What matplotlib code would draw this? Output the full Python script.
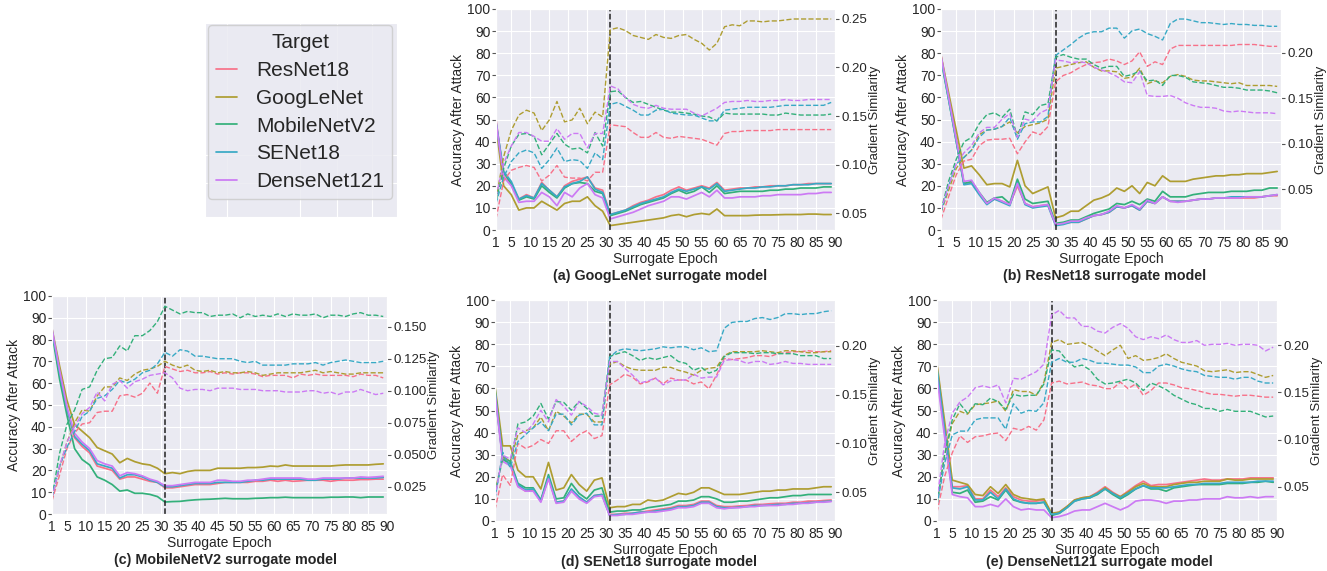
import matplotlib
matplotlib.use("Agg")
import matplotlib.pyplot as plt
import seaborn as sns
from matplotlib.ticker import MultipleLocator

# surrogate epochs (every second epoch)
epochs = list(range(1, 90, 2))
targets = ["ResNet18", "GoogLeNet", "MobileNetV2", "SENet18", "DenseNet121"]
x_ticks = [1, 5, 10, 15, 20, 25, 30, 35, 40, 45, 50, 55, 60, 65, 70, 75, 80, 85, 90]
switch_epoch = 31

# ---- (a) GoogLeNet surrogate: rows follow `targets` ----
acc_a = [
    [50, 24, 21, 14, 16, 14.5, 21.5, 18, 15, 20, 22, 23, 24, 19, 18, 7, 8, 9, 11, 12.5, 13.5, 15, 16, 18, 19.5,
     18, 19, 20, 19, 21.5, 18, 18.5, 19, 19, 19.5, 19.5, 20, 20, 20, 20.5, 20.5, 21, 21, 21, 21],
    [47, 20, 16, 9, 10, 10, 13, 11, 9, 12, 13, 13, 15, 11, 8.5, 2, 2.5, 3, 3.5, 4, 4.5, 5, 5.5, 6.5, 7,
     6, 7, 7.5, 7, 9.5, 6.5, 6.5, 6.5, 6.5, 6.7, 6.8, 6.8, 6.9, 7, 7, 7, 7.2, 7.2, 7, 7],
    [48, 26, 21, 13.5, 15, 14, 20, 17, 14.5, 19, 21, 21.5, 21, 17.5, 16.5, 6.5, 7.5, 8.5, 10, 11.5, 12.5, 13.5, 14.5, 16.5, 18,
     16.5, 17.5, 19.5, 17, 20, 16.5, 17, 17.5, 17.5, 17.5, 17.5, 18, 18, 18.5, 18.5, 19, 19, 19, 19.5, 19.5],
    [49, 26.5, 22, 14, 15.5, 14.5, 21, 18, 15, 19.5, 21, 22, 24, 18.5, 17, 7, 8, 9, 10.5, 12, 13, 14, 15, 17, 18.5,
     17.5, 18.5, 19.5, 18.5, 21, 17.5, 18, 18.5, 19, 19, 19.5, 19.5, 20, 20, 20.5, 20.5, 20.5, 21, 21, 21],
    [49, 24, 20, 12.5, 13, 13, 17, 15, 11, 17, 15, 19, 21, 16, 14.5, 5, 6, 7, 8, 9.5, 11, 12, 13, 15, 15,
     14, 15.5, 17, 15, 18, 14.5, 14.5, 15, 15, 15, 15.5, 15.5, 16, 16, 16, 16, 16.5, 16.5, 17, 17],
]
sim_a = [
    [0.044, 0.083, 0.094, 0.097, 0.099, 0.097, 0.083, 0.089, 0.099, 0.087, 0.086, 0.086, 0.083, 0.092, 0.092,
     0.141, 0.140, 0.139, 0.133, 0.128, 0.128, 0.133, 0.128, 0.127, 0.129, 0.128, 0.127, 0.126, 0.123, 0.120,
     0.132, 0.134, 0.134, 0.135, 0.135, 0.135, 0.135, 0.136, 0.136, 0.136, 0.136, 0.136, 0.136, 0.136, 0.136],
    [0.064, 0.108, 0.135, 0.151, 0.156, 0.153, 0.135, 0.146, 0.165, 0.144, 0.146, 0.158, 0.142, 0.154, 0.149,
     0.239, 0.241, 0.238, 0.233, 0.231, 0.229, 0.234, 0.231, 0.230, 0.233, 0.234, 0.229, 0.225, 0.218, 0.225,
     0.242, 0.244, 0.243, 0.248, 0.248, 0.247, 0.248, 0.248, 0.249, 0.250, 0.250, 0.250, 0.250, 0.250, 0.250],
    [0.062, 0.096, 0.119, 0.131, 0.132, 0.129, 0.110, 0.121, 0.132, 0.121, 0.116, 0.117, 0.112, 0.133, 0.119,
     0.175, 0.176, 0.169, 0.164, 0.165, 0.162, 0.159, 0.156, 0.154, 0.154, 0.153, 0.152, 0.150, 0.149, 0.145,
     0.153, 0.152, 0.152, 0.152, 0.152, 0.152, 0.151, 0.151, 0.153, 0.152, 0.151, 0.151, 0.151, 0.151, 0.152],
    [0.060, 0.087, 0.103, 0.112, 0.115, 0.112, 0.096, 0.105, 0.117, 0.103, 0.105, 0.104, 0.096, 0.112, 0.105,
     0.162, 0.164, 0.160, 0.156, 0.151, 0.151, 0.156, 0.157, 0.153, 0.152, 0.151, 0.151, 0.148, 0.145, 0.145,
     0.156, 0.157, 0.158, 0.159, 0.159, 0.159, 0.159, 0.160, 0.161, 0.161, 0.161, 0.161, 0.161, 0.161, 0.164],
    [0.067, 0.101, 0.119, 0.133, 0.133, 0.129, 0.124, 0.124, 0.137, 0.126, 0.132, 0.132, 0.117, 0.132, 0.132,
     0.181, 0.178, 0.169, 0.162, 0.159, 0.158, 0.161, 0.158, 0.157, 0.157, 0.157, 0.153, 0.150, 0.154, 0.158,
     0.164, 0.165, 0.165, 0.166, 0.165, 0.165, 0.166, 0.166, 0.167, 0.166, 0.166, 0.167, 0.167, 0.167, 0.167],
]

# ---- (b) ResNet18 surrogate ----
acc_b = [
    [79, 60, 41, 21, 21.5, 16.5, 12, 14, 13, 11.5, 20, 12, 10.5, 11, 11.5, 2.5, 3, 3.5, 3.5, 5, 6.5, 7, 8, 10.5, 10,
     11, 9, 13, 12, 15, 13, 13, 13, 13.5, 14, 14, 14.5, 14.5, 14.5, 14.5, 14.5, 14.5, 15, 15.5, 15.5],
    [79, 62, 45, 28, 29, 25, 20.5, 21, 21, 19.5, 31.5, 20, 16.5, 18, 19.5, 5.5, 6.5, 8.5, 8.5, 11, 13.5, 14.5, 16, 19, 17.5,
     20, 16.5, 21.5, 20, 24.5, 22, 22, 22, 23, 23.5, 24, 24.5, 24.5, 25, 25, 25.5, 25.5, 25.5, 26, 26.5],
    [77, 59, 40, 21, 22, 17, 12.5, 14.5, 15, 12, 23, 14, 12, 12.5, 13, 3, 3.5, 4.5, 4.5, 6, 7.5, 8.5, 9.5, 12, 11.5,
     13, 11.5, 14, 13, 17.5, 15, 15, 15, 16, 16.5, 17, 17, 17, 17.5, 17.5, 17.5, 18, 18, 19, 19],
    [78, 59, 40, 20.5, 21, 16, 11.5, 14, 12.5, 11, 21.5, 11.5, 10, 10.5, 11, 2, 2.5, 3.5, 3.5, 5, 6.5, 7, 8, 10.5, 10,
     11, 9, 13, 12, 15, 13, 13, 13, 13.5, 14, 14, 14.5, 14.5, 15, 15, 15, 15, 15, 15.5, 16],
    [79, 60, 41, 22, 22.5, 17, 12, 14.5, 13, 11.5, 21, 12, 10.5, 11, 11.5, 2.5, 3, 4, 4, 5.5, 6.5, 7, 8.5, 11, 10,
     11.5, 9.5, 13.5, 12, 15, 13, 12.5, 13, 13.5, 14, 14, 14.5, 14.5, 14.5, 14.5, 15, 15, 15, 15.5, 16],
]
sim_b = [
    [0.017, 0.042, 0.066, 0.081, 0.083, 0.098, 0.104, 0.105, 0.105, 0.106, 0.089, 0.102, 0.113, 0.110, 0.119,
     0.168, 0.175, 0.178, 0.183, 0.187, 0.189, 0.190, 0.193, 0.191, 0.187, 0.191, 0.201, 0.185, 0.190, 0.187,
     0.204, 0.208, 0.208, 0.208, 0.208, 0.208, 0.208, 0.208, 0.208, 0.209, 0.209, 0.209, 0.208, 0.207, 0.207],
    [0.025, 0.049, 0.073, 0.085, 0.093, 0.110, 0.115, 0.116, 0.119, 0.124, 0.112, 0.119, 0.121, 0.123, 0.127,
     0.183, 0.185, 0.187, 0.189, 0.190, 0.184, 0.180, 0.180, 0.179, 0.172, 0.173, 0.183, 0.166, 0.169, 0.167,
     0.174, 0.176, 0.174, 0.170, 0.169, 0.169, 0.168, 0.167, 0.166, 0.167, 0.164, 0.164, 0.164, 0.164, 0.163],
    [0.027, 0.059, 0.083, 0.102, 0.107, 0.122, 0.132, 0.134, 0.129, 0.138, 0.107, 0.135, 0.132, 0.142, 0.144,
     0.195, 0.198, 0.195, 0.193, 0.193, 0.187, 0.183, 0.185, 0.185, 0.174, 0.176, 0.180, 0.169, 0.170, 0.164,
     0.175, 0.175, 0.173, 0.168, 0.167, 0.166, 0.164, 0.162, 0.162, 0.161, 0.159, 0.159, 0.159, 0.158, 0.156],
    [0.025, 0.054, 0.078, 0.085, 0.093, 0.107, 0.115, 0.116, 0.119, 0.129, 0.105, 0.122, 0.124, 0.124, 0.130,
     0.197, 0.203, 0.209, 0.216, 0.221, 0.223, 0.223, 0.227, 0.227, 0.216, 0.224, 0.226, 0.221, 0.218, 0.214,
     0.232, 0.237, 0.237, 0.235, 0.233, 0.233, 0.232, 0.231, 0.232, 0.231, 0.231, 0.230, 0.230, 0.229, 0.229],
    [0.027, 0.054, 0.078, 0.090, 0.098, 0.112, 0.118, 0.118, 0.127, 0.133, 0.107, 0.127, 0.125, 0.134, 0.138,
     0.192, 0.191, 0.189, 0.190, 0.189, 0.184, 0.181, 0.178, 0.174, 0.168, 0.167, 0.179, 0.153, 0.152, 0.152,
     0.153, 0.150, 0.145, 0.142, 0.140, 0.140, 0.139, 0.136, 0.135, 0.136, 0.135, 0.134, 0.134, 0.134, 0.133],
]

# ---- (c) MobileNetV2 surrogate ----
acc_c = [
    [84, 65, 48, 35, 31, 28, 22, 21, 20, 16, 17, 17, 16, 15, 14.5, 12, 12, 12.5, 13, 13.5, 13.5, 13.5, 14, 14.5, 14.5,
     14.5, 14.5, 15, 15, 15.5, 15, 15.5, 15, 15.2, 15.5, 15.5, 15.5, 15, 15.5, 15.5, 15.5, 15.8, 15.8, 16, 16],
    [85, 68, 52, 41, 38, 35, 30.5, 29, 27.5, 23.5, 25.5, 24, 23, 22.5, 21, 18.5, 19, 18.5, 19.5, 20, 20, 20, 21, 21, 21,
     21, 21.3, 21.3, 21.5, 22, 21.8, 22.5, 22, 22, 22, 22, 22, 22, 22.3, 22.5, 22.5, 22.5, 22.5, 22.8, 23],
    [83, 62, 45, 30, 25, 22.5, 17, 15.5, 13.5, 10.5, 11, 9.5, 9.5, 9, 8, 5.5, 5.7, 5.8, 6.2, 6.5, 6.7, 6.8, 7, 7.2, 7,
     7, 7, 7.2, 7.3, 7.5, 7.5, 7.7, 7.5, 7.5, 7.5, 7.5, 7.5, 7.7, 7.7, 7.8, 7.8, 7.5, 7.8, 7.8, 7.8],
    [84, 65, 48, 35.5, 32, 29, 23, 22, 21, 16.5, 18, 18, 17, 15.5, 14.5, 12.5, 12.5, 13, 13.5, 14, 14, 14, 14.5, 14.5, 14.5,
     14.5, 15, 15.5, 15.5, 16, 16, 16, 16, 16, 15.5, 15.5, 16, 16, 16, 16.5, 16.5, 16.5, 16.5, 16.5, 16.8],
    [85, 66, 49, 37, 33, 30, 24.5, 23, 22, 17.5, 19, 18.5, 17.5, 16, 15, 13, 13, 13.5, 14, 14.5, 14.5, 14.5, 15.5, 15.5, 15,
     15, 15.5, 15.5, 16, 16.5, 16.5, 16.5, 16.5, 16.5, 16, 16, 16.5, 16.5, 16.5, 16.5, 16.5, 17, 16.8, 17, 17.3],
]
sim_c = [
    [0.014, 0.034, 0.055, 0.067, 0.074, 0.075, 0.083, 0.084, 0.084, 0.096, 0.097, 0.095, 0.098, 0.106, 0.098,
     0.119, 0.117, 0.115, 0.116, 0.114, 0.114, 0.115, 0.113, 0.114, 0.113, 0.114, 0.114, 0.113, 0.111, 0.112,
     0.112, 0.112, 0.110, 0.113, 0.112, 0.113, 0.112, 0.112, 0.112, 0.112, 0.111, 0.113, 0.112, 0.112, 0.110],
    [0.016, 0.040, 0.060, 0.075, 0.085, 0.084, 0.096, 0.103, 0.103, 0.110, 0.108, 0.113, 0.116, 0.117, 0.119,
     0.123, 0.120, 0.118, 0.120, 0.116, 0.115, 0.116, 0.114, 0.115, 0.114, 0.114, 0.115, 0.114, 0.112, 0.113,
     0.114, 0.114, 0.114, 0.114, 0.115, 0.116, 0.114, 0.115, 0.114, 0.113, 0.113, 0.114, 0.114, 0.114, 0.114],
    [0.017, 0.051, 0.074, 0.085, 0.101, 0.103, 0.116, 0.125, 0.126, 0.135, 0.131, 0.143, 0.143, 0.147, 0.154,
     0.166, 0.163, 0.160, 0.162, 0.161, 0.161, 0.158, 0.159, 0.159, 0.160, 0.157, 0.160, 0.158, 0.159, 0.158,
     0.160, 0.158, 0.160, 0.159, 0.159, 0.160, 0.157, 0.159, 0.159, 0.158, 0.160, 0.161, 0.159, 0.159, 0.158],
    [0.017, 0.041, 0.056, 0.068, 0.080, 0.084, 0.094, 0.096, 0.101, 0.108, 0.106, 0.109, 0.114, 0.116, 0.121,
     0.130, 0.127, 0.132, 0.131, 0.127, 0.127, 0.126, 0.125, 0.125, 0.125, 0.123, 0.122, 0.123, 0.120, 0.120,
     0.120, 0.120, 0.121, 0.121, 0.121, 0.122, 0.120, 0.122, 0.123, 0.124, 0.123, 0.122, 0.122, 0.122, 0.123],
    [0.016, 0.041, 0.060, 0.072, 0.082, 0.087, 0.099, 0.092, 0.105, 0.108, 0.102, 0.107, 0.109, 0.112, 0.113,
     0.114, 0.110, 0.102, 0.100, 0.101, 0.101, 0.100, 0.102, 0.102, 0.102, 0.101, 0.101, 0.101, 0.100, 0.100,
     0.100, 0.099, 0.099, 0.099, 0.100, 0.100, 0.098, 0.099, 0.097, 0.099, 0.099, 0.101, 0.099, 0.097, 0.098],
]

# ---- (d) SENet18 surrogate ----
acc_d = [
    [59, 28, 26, 16, 13.5, 14, 9, 19.5, 8.5, 9, 14, 10.5, 8.5, 11.5, 12, 3, 3, 3.5, 3.5, 4, 4.5, 5, 5.5, 6, 7,
     7, 7.5, 9, 9, 7, 6.5, 6.5, 6.8, 7, 7.5, 7.5, 7.8, 8, 8, 8.5, 8.5, 9, 9, 9.3, 9.5],
    [61, 34, 34, 23, 20, 20, 14.5, 26.5, 14, 15, 21, 16.5, 13.5, 18.5, 19.5, 6, 6.5, 6.5, 7.5, 7.5, 9.5, 9, 9.5, 11, 12.5,
     12, 13, 15, 15, 13.5, 12, 12, 12, 12.5, 13, 13.5, 13.5, 14, 14, 14.5, 14.5, 14.5, 15, 15.5, 15.5],
    [60, 29, 27, 17, 15, 15, 9.5, 21, 10, 10.5, 17, 12.5, 10, 14, 15, 4, 4.5, 4.5, 5, 5, 6, 6.5, 7, 7.5, 9,
     9, 9.5, 11, 11, 10, 8.5, 8.5, 9, 9, 9.5, 10, 10.5, 10.5, 11, 11.5, 11.5, 12, 12, 12, 12],
    [58, 28, 26, 16.5, 14, 14.5, 9, 20, 8.5, 9, 14.5, 11, 8.5, 11.5, 12, 2.5, 3, 3, 3.5, 4, 4, 4.5, 5, 5.5, 6.5,
     6.5, 7, 8.5, 8.5, 6.5, 6, 6, 6.3, 6.5, 7, 7, 7.2, 7.5, 7.5, 8, 8, 8.3, 8.5, 8.8, 9],
    [58, 27, 25, 15.5, 13.5, 13.5, 8.5, 19, 8, 8.5, 13.5, 10, 8, 11, 11.5, 2.5, 2.5, 3, 3, 3.5, 4, 4, 4.5, 5, 6,
     6, 6.5, 8, 8, 6, 5.5, 6, 6, 6.5, 6.5, 7, 7, 7, 7.5, 7.5, 8, 8, 8.5, 8.5, 8.8],
]
sim_d = [
    [0.032, 0.068, 0.057, 0.100, 0.095, 0.098, 0.104, 0.100, 0.113, 0.113, 0.102, 0.109, 0.113, 0.105, 0.108,
     0.160, 0.165, 0.171, 0.168, 0.161, 0.163, 0.167, 0.161, 0.167, 0.165, 0.165, 0.161, 0.163, 0.156, 0.170,
     0.187, 0.186, 0.187, 0.188, 0.190, 0.190, 0.189, 0.192, 0.193, 0.194, 0.194, 0.195, 0.194, 0.194, 0.195],
    [0.050, 0.086, 0.082, 0.109, 0.113, 0.116, 0.127, 0.113, 0.133, 0.128, 0.121, 0.130, 0.130, 0.122, 0.122,
     0.181, 0.184, 0.179, 0.176, 0.175, 0.175, 0.175, 0.178, 0.178, 0.175, 0.173, 0.170, 0.175, 0.177, 0.178,
     0.190, 0.194, 0.194, 0.194, 0.194, 0.195, 0.194, 0.193, 0.195, 0.195, 0.194, 0.193, 0.193, 0.194, 0.194],
    [0.048, 0.084, 0.079, 0.120, 0.122, 0.128, 0.141, 0.125, 0.143, 0.142, 0.134, 0.143, 0.136, 0.128, 0.128,
     0.189, 0.192, 0.194, 0.190, 0.185, 0.188, 0.186, 0.188, 0.190, 0.184, 0.182, 0.175, 0.178, 0.172, 0.175,
     0.189, 0.193, 0.193, 0.193, 0.192, 0.193, 0.193, 0.192, 0.192, 0.192, 0.190, 0.190, 0.190, 0.187, 0.187],
    [0.043, 0.091, 0.075, 0.102, 0.109, 0.116, 0.122, 0.113, 0.130, 0.130, 0.119, 0.129, 0.131, 0.119, 0.119,
     0.188, 0.195, 0.197, 0.196, 0.195, 0.196, 0.197, 0.199, 0.198, 0.199, 0.199, 0.196, 0.198, 0.194, 0.195,
     0.218, 0.224, 0.225, 0.225, 0.228, 0.229, 0.227, 0.229, 0.233, 0.233, 0.232, 0.233, 0.233, 0.235, 0.236],
    [0.045, 0.088, 0.084, 0.116, 0.111, 0.120, 0.134, 0.122, 0.145, 0.138, 0.129, 0.143, 0.138, 0.131, 0.129,
     0.184, 0.184, 0.177, 0.170, 0.162, 0.164, 0.167, 0.160, 0.164, 0.165, 0.165, 0.171, 0.167, 0.168, 0.168,
     0.185, 0.186, 0.185, 0.182, 0.184, 0.184, 0.181, 0.182, 0.184, 0.182, 0.182, 0.181, 0.181, 0.181, 0.181],
]

# ---- (e) DenseNet121 surrogate ----
acc_e = [
    [70, 42, 15.5, 15.5, 16, 10, 10, 14, 11, 15, 11, 9.5, 9, 9, 9.5, 3, 4, 6.5, 9.5, 10.5, 11, 13, 15.5, 13, 11,
     13.5, 16, 18, 16, 16.5, 16.5, 17, 17.5, 18, 18.5, 19, 18.5, 18.5, 19, 19, 19, 19.5, 19.5, 19.5, 19.5],
    [71, 45, 18.5, 17.5, 16.5, 12, 11.5, 15.5, 12.5, 16.5, 12, 10.5, 10, 9.5, 10, 3.5, 4, 6.5, 9.5, 10.5, 11, 12.5, 15, 12.5, 11,
     13, 15.5, 17, 15.5, 15.5, 15.5, 16.5, 17, 17.5, 17.5, 18, 18, 18, 19, 18.5, 18.5, 19, 19, 19, 19],
    [68, 40, 13, 12.5, 14, 8.5, 9, 11, 9.5, 14, 9.5, 8.5, 8, 8, 8.5, 2.5, 3.5, 6, 9, 10, 10.5, 12, 14.5, 12, 10,
     12, 14.5, 16, 14.5, 14.5, 13.5, 15, 15.5, 16, 16.5, 16.5, 16.5, 16.5, 17, 17, 17, 17.5, 17.5, 18, 17.5],
    [69, 41, 15, 14.5, 15.5, 9.5, 9.5, 13, 10, 14.5, 10, 8.5, 8, 8, 8.5, 3, 3.5, 6, 9, 10, 10.5, 12.5, 14.5, 12.5, 10.5,
     12.5, 14.5, 16, 15, 15, 15, 15.5, 16, 16.5, 16.5, 17, 17, 17, 17.5, 17.5, 17.5, 17.5, 18, 18, 18],
    [65, 38, 12, 11, 10.5, 6.5, 6.5, 7.5, 6.5, 10, 6.5, 5, 5.5, 5, 5, 1.5, 2, 3, 4.5, 5, 5, 6.5, 8, 6.5, 5,
     6.5, 9, 9.5, 9.5, 9, 8, 9, 9, 9.5, 9.5, 10, 10, 10, 11, 10.5, 10.5, 11, 10.5, 11, 11],
]
sim_e = [
    [0.023, 0.061, 0.086, 0.104, 0.097, 0.103, 0.104, 0.106, 0.107, 0.099, 0.112, 0.110, 0.114, 0.110, 0.121,
     0.160, 0.162, 0.159, 0.160, 0.161, 0.158, 0.157, 0.154, 0.154, 0.161, 0.154, 0.159, 0.147, 0.152, 0.160,
     0.160, 0.158, 0.155, 0.154, 0.152, 0.150, 0.148, 0.148, 0.147, 0.146, 0.147, 0.147, 0.146, 0.145, 0.145],
    [0.032, 0.084, 0.117, 0.130, 0.127, 0.137, 0.138, 0.139, 0.141, 0.130, 0.153, 0.151, 0.151, 0.147, 0.161,
     0.203, 0.206, 0.201, 0.202, 0.203, 0.199, 0.194, 0.189, 0.195, 0.200, 0.186, 0.189, 0.184, 0.185, 0.187,
     0.191, 0.186, 0.182, 0.180, 0.178, 0.173, 0.172, 0.173, 0.174, 0.171, 0.172, 0.172, 0.169, 0.166, 0.168],
    [0.032, 0.084, 0.121, 0.138, 0.128, 0.138, 0.137, 0.144, 0.140, 0.132, 0.148, 0.146, 0.147, 0.147, 0.159,
     0.195, 0.194, 0.184, 0.177, 0.179, 0.174, 0.164, 0.159, 0.160, 0.162, 0.164, 0.160, 0.152, 0.160, 0.157,
     0.153, 0.147, 0.143, 0.139, 0.137, 0.133, 0.133, 0.130, 0.132, 0.130, 0.130, 0.130, 0.127, 0.124, 0.125],
    [0.030, 0.075, 0.105, 0.109, 0.109, 0.121, 0.123, 0.123, 0.123, 0.111, 0.138, 0.128, 0.131, 0.130, 0.139,
     0.182, 0.186, 0.182, 0.182, 0.186, 0.184, 0.181, 0.181, 0.180, 0.179, 0.179, 0.177, 0.171, 0.171, 0.178,
     0.180, 0.178, 0.175, 0.173, 0.172, 0.168, 0.167, 0.166, 0.166, 0.164, 0.166, 0.166, 0.162, 0.160, 0.160],
    [0.037, 0.096, 0.128, 0.140, 0.145, 0.155, 0.157, 0.155, 0.158, 0.139, 0.165, 0.164, 0.168, 0.172, 0.180,
     0.232, 0.237, 0.229, 0.229, 0.220, 0.220, 0.215, 0.213, 0.219, 0.223, 0.218, 0.209, 0.206, 0.209, 0.207,
     0.211, 0.206, 0.203, 0.203, 0.205, 0.200, 0.201, 0.201, 0.202, 0.200, 0.201, 0.201, 0.200, 0.194, 0.198],
]

sns.set_style("darkgrid")
plt.rcParams["font.family"] = ["Liberation Sans", "DejaVu Sans"]
colors = sns.color_palette("husl", 5)

W, H = 1327, 571
fig = plt.figure(figsize=(W / 100, H / 100), dpi=100)

# (acc, sim, twin y-limits, twin tick step, axes box in pixels, caption, caption centre in pixels)
panels = [
    (acc_a, sim_a, (0.0325, 0.2603), 0.05, (496, 9, 835, 230), "(a) GoogLeNet surrogate model", (660, 276)),
    (acc_b, sim_b, (0.0053, 0.248), 0.05, (941, 9, 1281, 230), "(b) ResNet18 surrogate model", (1105, 276)),
    (acc_c, sim_c, (0.0037, 0.174), 0.025, (52, 296, 387, 514), "(c) MobileNetV2 surrogate model", (226, 560)),
    (acc_d, sim_d, (0.0205, 0.247), 0.05, (495, 300, 835, 521), "(d) SENet18 surrogate model", (659, 562)),
    (acc_e, sim_e, (0.0137, 0.248), 0.05, (937, 300, 1277, 521), "(e) DenseNet121 surrogate model", (1099, 562)),
]

handles = []
for acc, sim, lim, step, (x0, y0, x1, y1), caption, (cap_x, cap_y) in panels:
    ax = fig.add_axes([x0 / W, 1 - y1 / H, (x1 - x0) / W, (y1 - y0) / H])
    ax2 = ax.twinx()
    handles = []
    for i, name in enumerate(targets):
        h, = ax.plot(epochs, acc[i], color=colors[i], lw=1.25, label=name)
        handles.append(h)
        ax2.plot(epochs, sim[i], color=colors[i], lw=1.0, ls="--")
    ax.axvline(switch_epoch, color="#222222", ls="--", lw=1.1)

    ax.set_xlim(1, 90)
    ax.set_ylim(0, 100)
    ax.set_xticks(x_ticks)
    ax.set_yticks(range(0, 101, 10))
    ax.tick_params(axis="both", labelsize=10, pad=1)
    ax.tick_params(axis="y", left=True, length=3, color="#555555")
    ax.set_xlabel("Surrogate Epoch", fontsize=10, labelpad=1)
    ax.set_ylabel("Accuracy After Attack", fontsize=10, labelpad=2)

    ax2.set_ylim(*lim)
    ax2.yaxis.set_major_locator(MultipleLocator(step))
    ax2.grid(False)
    ax2.tick_params(axis="y", right=True, length=3, color="#555555", labelsize=9.5, pad=1.5)
    ax2.set_ylabel("Gradient Similarity", fontsize=9.5, labelpad=1)

    fig.text(cap_x / W, 1 - cap_y / H, caption, ha="center", va="center",
             fontsize=10.3, fontweight="bold")

# empty gray panel behind the legend
bg = fig.add_axes([205 / W, 1 - 217 / H, 192 / W, 194 / H])
bg.set_xlim(0, 1)
bg.set_ylim(0, 1)
bg.set_xticks([0.115, 0.495, 0.69, 0.87])
bg.set_yticks([0.175, 0.32])
bg.tick_params(length=0, labelbottom=False, labelleft=False)

fig.legend(handles, targets, title="Target", loc="upper left",
           bbox_to_anchor=(208 / W, 1 - 25 / H), fontsize=15, title_fontsize=15,
           frameon=True, facecolor="#EAEAF2", edgecolor="#cccccc", framealpha=0.85,
           handlelength=1.0, handletextpad=0.9, labelspacing=0.42, borderpad=0.4,
           borderaxespad=0)

fig.savefig("out.png", dpi=100)
